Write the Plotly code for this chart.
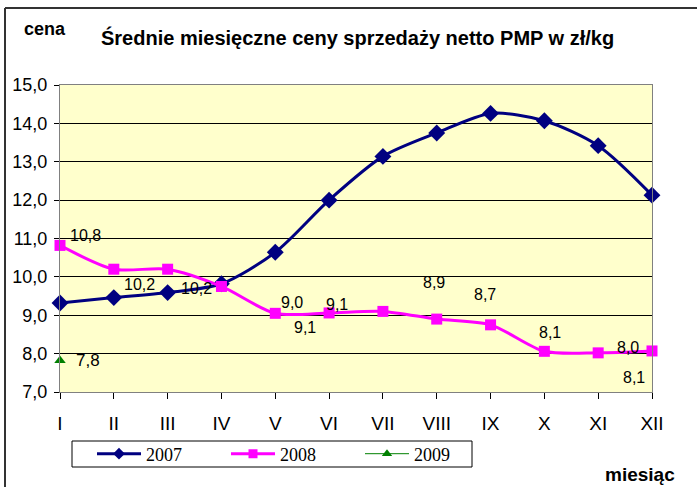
import plotly.graph_objects as go

months = ["I", "II", "III", "IV", "V", "VI", "VII", "VIII", "IX", "X", "XI", "XII"]
month_pos = list(range(1, 13))
y2007 = [9.32, 9.46, 9.59, 9.82, 10.64, 12.0, 13.14, 13.75, 14.26, 14.07, 13.42, 12.13]
y2008 = [10.82, 10.2, 10.2, 9.75, 9.05, 9.06, 9.1, 8.9, 8.75, 8.06, 8.02, 8.07]
y2009 = [7.82]
series_names = ["2007", "2008", "2009"]
series_colors = ["#000080", "#FF00FF", "#008000"]

# data labels as shown in the reference (text, x in month units, y in price units)
label_text = ["10,8", "10,2", "10,2", "9,0", "9,1", "9,1", "8,9", "8,7", "8,1", "8,0", "8,1"]
label_x = [1.48, 2.47, 3.53, 5.31, 5.55, 6.15, 7.95, 8.9, 10.11, 11.56, 11.67]
label_y = [11.09, 9.79, 9.71, 9.34, 8.69, 9.29, 9.86, 9.55, 8.56, 8.17, 7.39]
label2009_text = "7,8"
label2009_x = 1.52
label2009_y = 7.81

fig = go.Figure()
fig.add_trace(go.Scatter(
    x=month_pos, y=y2007, name=series_names[0], mode="lines+markers", showlegend=False,
    line=dict(color=series_colors[0], width=3, shape="spline", smoothing=0.8),
    marker=dict(symbol="diamond", size=13, color=series_colors[0]),
    cliponaxis=False))
fig.add_trace(go.Scatter(
    x=month_pos, y=y2008, name=series_names[1], mode="lines+markers", showlegend=False,
    line=dict(color=series_colors[1], width=3, shape="spline", smoothing=0.8),
    marker=dict(symbol="square", size=11, color=series_colors[1]),
    cliponaxis=False))
fig.add_trace(go.Scatter(
    x=month_pos[:1], y=y2009, name=series_names[2], mode="lines+markers", showlegend=False,
    line=dict(color=series_colors[2], width=1),
    marker=dict(symbol="triangle-up", size=10, color=series_colors[2]),
    cliponaxis=False))

# legend entries (smaller symbols, as in the reference legend)
legend_symbols = ["diamond", "square", "triangle-up"]
legend_widths = [3, 3, 1]
for n, c, s, w in zip(series_names, series_colors, legend_symbols, legend_widths):
    fig.add_trace(go.Scatter(x=[None], y=[None], name=n, mode="lines+markers",
                             line=dict(color=c, width=w),
                             marker=dict(symbol=s, size=9, color=c)))

annotations = []
for t, lx, ly in zip(label_text, label_x, label_y):
    annotations.append(dict(x=lx, y=ly, xref="x", yref="y", text=t, showarrow=False,
                            font=dict(family="Liberation Sans, Arial", size=16, color="black")))
annotations.append(dict(x=label2009_x, y=label2009_y, xref="x", yref="y", text=label2009_text,
                        showarrow=False,
                        font=dict(family="Liberation Sans, Arial", size=17, color="black")))

L, T, R, B = 60, 85, 652, 392
W, H = R - L, B - T

def px(x):
    return (x - L) / W

def py(y):
    return (B - y) / H

annotations.append(dict(x=px(357), y=py(38), xref="paper", yref="paper",
                        text="Średnie miesięczne ceny sprzedaży netto PMP w zł/kg",
                        showarrow=False, xanchor="center", yanchor="middle",
                        font=dict(family="Liberation Sans, Arial", size=20, color="black", weight="bold")))
annotations.append(dict(x=px(45), y=py(29), xref="paper", yref="paper", text="cena",
                        showarrow=False, xanchor="center", yanchor="middle",
                        font=dict(family="Liberation Sans, Arial", size=18, color="black", weight="bold")))
annotations.append(dict(x=px(640), y=py(474), xref="paper", yref="paper", text="miesiąc",
                        showarrow=False, xanchor="center", yanchor="middle",
                        font=dict(family="Liberation Sans, Arial", size=19, color="black", weight="bold")))

shapes = [
    dict(type="line", xref="paper", yref="paper", x0=px(5), x1=px(5), y0=py(8), y1=py(500),
         line=dict(color="#333333", width=2)),
    dict(type="line", xref="paper", yref="paper", x0=px(5), x1=px(710), y0=py(8), y1=py(8),
         line=dict(color="#333333", width=2)),
    dict(type="rect", xref="paper", yref="paper", x0=px(72), x1=px(472), y0=py(441), y1=py(467),
         line=dict(color="black", width=1), fillcolor="white", layer="below"),
]

fig.update_layout(
    width=697, height=487,
    margin=dict(l=L, r=697 - R, t=T, b=487 - B, pad=0),
    paper_bgcolor="white",
    plot_bgcolor="#FFFFCC",
    separators=", ",
    showlegend=True,
    legend=dict(orientation="h", x=px(92), y=py(454), xanchor="left", yanchor="middle",
                borderwidth=0, bgcolor="rgba(0,0,0,0)",
                font=dict(family="Liberation Serif, Times New Roman", size=18, color="black"),
                entrywidth=75, itemwidth=44),
    annotations=annotations,
    shapes=shapes,
)
fig.update_xaxes(
    range=[1, 12], tickmode="array", tickvals=month_pos, ticktext=months,
    showgrid=False, zeroline=False,
    ticks="outside", ticklen=6, tickcolor="black", tickwidth=1,
    showline=True, linecolor="#808080", linewidth=1, mirror=True,
    ticklabelstandoff=8,
    tickfont=dict(family="Liberation Sans Narrow, Arial Narrow, Liberation Sans", size=19, color="black"),
)
fig.update_yaxes(
    range=[7, 15], dtick=1, tickformat=".1f",
    showgrid=True, gridcolor="black", gridwidth=1, zeroline=False,
    ticks="outside", ticklen=5, tickcolor="black",
    showline=True, linecolor="#808080", linewidth=1, mirror=True,
    ticklabelstandoff=3,
    tickfont=dict(family="Liberation Sans, Arial", size=18, color="black"),
)

fig.write_html("out.html", config={"displayModeBar": False},
               post_script="document.body.style.margin='0';document.body.style.overflow='hidden';")
